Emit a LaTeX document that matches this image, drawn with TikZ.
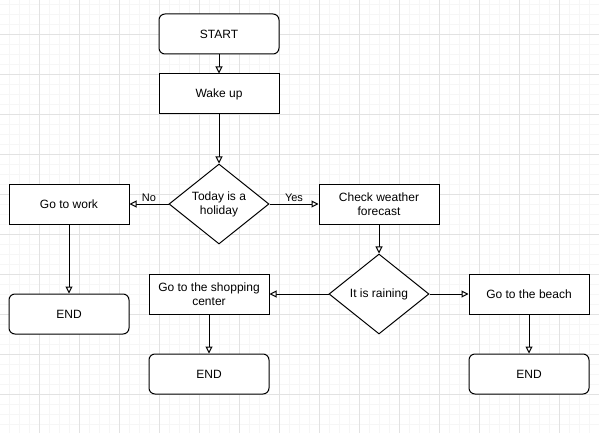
\documentclass[tikz,border=0pt]{standalone}
\usepackage{fontspec}
\setmainfont{Liberation Sans}
\usetikzlibrary{arrows.meta,shapes.geometric}
\definecolor{gridmajor}{HTML}{E2E2E2}
\definecolor{gridminor}{HTML}{F6F6F6}
\tikzset{
  box/.style={draw=black, line width=1pt, fill=white, minimum width=120pt, minimum height=40pt, inner sep=0pt, align=center, font=\fontsize{12}{14}\selectfont},
  roundbox/.style={box, rounded corners=6pt},
  decision/.style={draw=black, line width=1pt, fill=white, diamond, minimum width=100pt, minimum height=80pt, inner sep=0pt, aspect=1.25, align=center, font=\fontsize{12}{14}\selectfont},
  flow/.style={draw=black, line width=1pt, -{Triangle[length=7pt, width=7pt, fill=white]}},
  elabel/.style={font=\fontsize{11}{13}\selectfont, inner sep=2pt}
}
\begin{document}
\begin{tikzpicture}[x=1pt, y=-1pt]
\useasboundingbox (0,0) rectangle (599,433);
\fill[white] (0,0) rectangle (599,433);
\foreach \i in {0,...,59} { \draw[gridminor, line width=0.8pt] ({\i*10-1},0) -- ({\i*10-1},433); }
\foreach \j in {0,...,43} { \draw[gridminor, line width=0.8pt] (0,{\j*10+4}) -- (599,{\j*10+4}); }
\foreach \i in {1,...,15} { \draw[gridmajor, line width=0.8pt] ({\i*40-1},0) -- ({\i*40-1},433); }
\foreach \j in {0,...,10} { \draw[gridmajor, line width=0.8pt] (0,{\j*40+34}) -- (599,{\j*40+34}); }

\node[roundbox] (start) at (219,34) {START};
\node[box] (wake) at (219,94) {Wake up};
\node[decision] (holiday) at (219,204) {Today is a\\holiday};
\node[box] (work) at (69,204) {Go to work};
\node[roundbox] (end1) at (69,314) {END};
\node[box] (weather) at (379,204) {Check weather\\forecast};
\node[decision] (rain) at (379,294) {It is raining};
\node[box] (shop) at (209,294) {Go to the shopping\\center};
\node[roundbox] (end2) at (209,374) {END};
\node[box] (beach) at (529,294) {Go to the beach};
\node[roundbox] (end3) at (529,374) {END};

\draw[flow] (start) -- (wake);
\draw[flow] (wake) -- (holiday);
\draw[flow] (holiday) -- node[elabel, pos=0.5, above] (nolab) {No} (work);
\draw[flow] (holiday) -- node[elabel, pos=0.5, above] (yeslab) {Yes} (weather);
\draw[flow] (work) -- (end1);
\draw[flow] (weather) -- (rain);
\draw[flow] (rain) -- (shop);
\draw[flow] (rain) -- (beach);
\draw[flow] (shop) -- (end2);
\draw[flow] (beach) -- (end3);
\end{tikzpicture}
\end{document}
